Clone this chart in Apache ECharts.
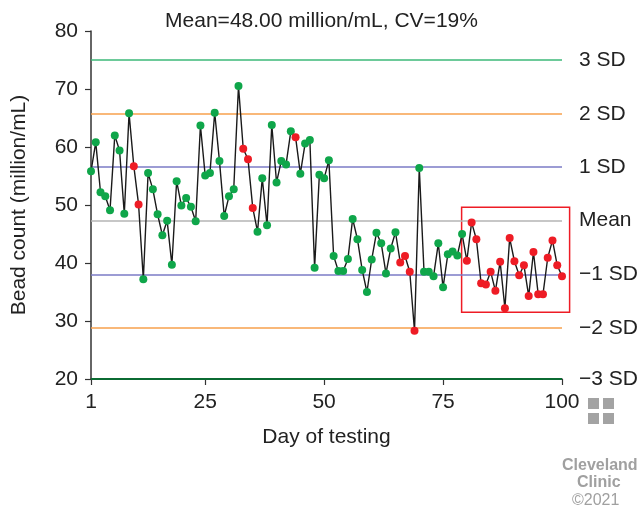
<!DOCTYPE html>
<html>
<head>
<meta charset="utf-8">
<script src="https://cdn.jsdelivr.net/npm/echarts@6/dist/echarts.min.js"></script>
<style>
html,body{margin:0;padding:0;background:#fff;}
#c{width:643px;height:509px;}
</style>
</head>
<body>
<div id="c"></div>
<script>
// ---- data ----
const titleText = 'Mean=48.00 million/mL, CV=19%';
const values = [
  55.8, 60.8, 52.2, 51.5, 49.1, 62.0, 59.4, 48.5, 65.8, 56.7,
  50.1, 37.2, 55.5, 52.7, 48.4, 44.8, 47.3, 39.7, 54.1, 49.9,
  51.2, 49.7, 47.2, 63.7, 55.1, 55.5, 65.9, 57.6, 48.1, 51.5,
  52.7, 70.5, 59.7, 57.9, 49.5, 45.4, 54.6, 46.5, 63.8, 53.9,
  57.6, 57.0, 62.7, 61.7, 55.4, 60.6, 61.2, 39.2, 55.2, 54.6,
  57.7, 41.2, 38.6, 38.6, 40.7, 47.6, 44.1, 38.8, 35.0, 40.6,
  45.2, 43.4, 38.2, 42.5, 45.3, 40.1, 41.2, 38.5, 28.3, 56.4,
  38.5, 38.5, 37.7, 43.4, 35.8, 41.5, 42.0, 41.3, 45.0, 40.4,
  47.0, 44.1, 36.5, 36.3, 38.5, 35.2, 40.2, 32.2, 44.3, 40.3,
  37.9, 39.6, 34.3, 41.9, 34.6, 34.6, 40.9, 43.9, 39.6, 37.7
];
const flaggedDays = [10, 11, 33, 34, 35, 44, 66, 67, 68, 69,
  80, 81, 82, 83, 84, 85, 86, 87, 88, 89, 90,
  91, 92, 93, 94, 95, 96, 97, 98, 99, 100];
const sdLabels = ['3 SD', '2 SD', '1 SD', 'Mean', '\u22121 SD', '\u22122 SD', '\u22123 SD'];
const sdValues = [75, 65.7, 56.6, 47.35, 38.0, 28.8, 20];
const sdColors = ['#3cb878', '#f7a04d', '#7b7bc6', '#b4b4b4', '#7b7bc6', '#f7a04d', '#0b6b32'];
const xTicks = [1, 25, 50, 75, 100];
const yTicks = [20, 30, 40, 50, 60, 70, 80];
const flagBoxX = [78.9, 101.6];
const flagBoxY = [31.5, 49.6];

// ---- build chart ----
const FONT = '"Liberation Sans", Arial, Helvetica, sans-serif';
const FS = 21;
const GREEN = '#0fa64a';
const RED = '#ee1c25';
const LOGO = '#a3a3a3';

const pointData = values.map((v, i) => {
  const day = i + 1;
  return {
    value: [day, v],
    itemStyle: { color: flaggedDays.indexOf(day) >= 0 ? RED : GREEN }
  };
});

const markLines = sdValues.map((v, i) => ({
  yAxis: v,
  lineStyle: { color: sdColors[i], width: i === 6 ? 2 : 1.5, type: 'solid' },
  label: { formatter: sdLabels[i] }
}));

const chart = echarts.init(document.getElementById('c'), null, { renderer: 'canvas' });
chart.setOption({
  animation: false,
  backgroundColor: '#fff',
  textStyle: { fontFamily: FONT },
  title: {
    text: titleText,
    left: 'center',
    top: 6,
    textStyle: { fontFamily: FONT, fontSize: FS, fontWeight: 'normal', color: '#222' }
  },
  grid: { left: 91, right: 81, top: 31, bottom: 130 },
  xAxis: {
    type: 'value', min: 1, max: 100,
    name: 'Day of testing', nameLocation: 'middle', nameGap: 48,
    nameTextStyle: { fontFamily: FONT, fontSize: FS, color: '#222' },
    axisLine: { show: true, lineStyle: { color: '#333', width: 1.5 } },
    axisTick: { show: true, length: 6, inside: false, customValues: xTicks, lineStyle: { color: '#333', width: 1.2 } },
    axisLabel: { customValues: xTicks, fontFamily: FONT, fontSize: FS, color: '#222', margin: 13 },
    splitLine: { show: false }
  },
  yAxis: {
    type: 'value', min: 20, max: 80, interval: 10,
    name: 'Bead count (million/mL)', nameLocation: 'middle', nameGap: 61, nameRotate: 90,
    nameTextStyle: { fontFamily: FONT, fontSize: FS, color: '#222' },
    axisLine: { show: true, lineStyle: { color: '#333', width: 1.5 } },
    axisTick: { show: true, length: 6, inside: false, lineStyle: { color: '#333', width: 1.2 } },
    axisLabel: { fontFamily: FONT, fontSize: FS, color: '#222', margin: 13,
      formatter: v => (yTicks.indexOf(v) >= 0 ? String(v) : '') },
    splitLine: { show: false }
  },
  series: [
    {
      type: 'line',
      data: [],
      silent: true,
      markLine: {
        silent: true,
        symbol: ['none', 'none'],
        animation: false,
        label: { show: true, position: 'end', distance: 17, fontFamily: FONT, fontSize: FS, color: '#222' },
        data: markLines
      }
    },
    {
      type: 'line',
      data: pointData,
      symbol: 'circle',
      symbolSize: 8,
      showSymbol: true,
      lineStyle: { color: '#1a1a1a', width: 1.4 },
      itemStyle: { borderWidth: 0 },
      z: 5
    }
  ],
  graphic: [
    {
      id: 'logo', type: 'group', left: 588, top: 398,
      children: [
        { type: 'rect', shape: { x: 0, y: 0, width: 11, height: 11 }, style: { fill: LOGO } },
        { type: 'rect', shape: { x: 15, y: 0, width: 11, height: 11 }, style: { fill: LOGO } },
        { type: 'rect', shape: { x: 0, y: 15, width: 11, height: 11 }, style: { fill: LOGO } },
        { type: 'rect', shape: { x: 15, y: 15, width: 11, height: 11 }, style: { fill: LOGO } }
      ]
    },
    { id: 't1', type: 'text', left: 562, top: 458, style: { text: 'Cleveland', font: 'bold 16px ' + FONT, fill: '#a0a0a0' } },
    { id: 't2', type: 'text', left: 577, top: 475, style: { text: 'Clinic', font: 'bold 16px ' + FONT, fill: '#a0a0a0' } },
    { id: 't3', type: 'text', left: 572, top: 493, style: { text: '\u00a92021', font: '16px ' + FONT, fill: '#a0a0a0' } }
  ]
});

// flagged-region box placed through the chart's own scales
const pA = chart.convertToPixel({ gridIndex: 0 }, [flagBoxX[0], flagBoxY[1]]);
const pB = chart.convertToPixel({ gridIndex: 0 }, [flagBoxX[1], flagBoxY[0]]);
chart.setOption({
  graphic: [{
    id: 'flagBox', type: 'rect', z: 4,
    shape: { x: pA[0], y: pA[1], width: pB[0] - pA[0], height: pB[1] - pA[1] },
    style: { fill: 'none', stroke: RED, lineWidth: 1.5 }
  }]
});
</script>
</body>
</html>
